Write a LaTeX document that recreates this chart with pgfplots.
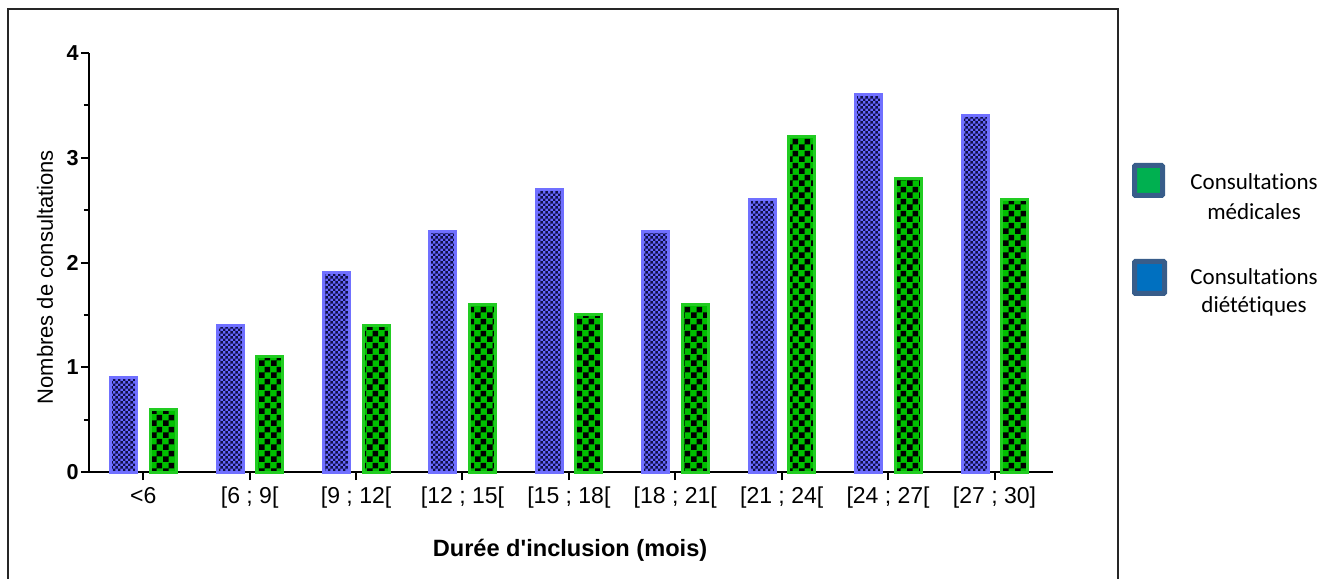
\documentclass[border=0pt]{standalone}
\usepackage{pgfplots}
\pgfplotsset{compat=1.18}
\usepackage{fontspec}
\setmainfont{Liberation Sans}
\newfontfamily\nomapfont{Liberation Sans}
\newfontfamily\legfont[Ligatures=NoCommon]{Carlito}
\usetikzlibrary{patterns}
\definecolor{barblue}{HTML}{6666FF}
\definecolor{bluedark}{HTML}{101048}
\definecolor{blueedge}{HTML}{7070FF}
\definecolor{bargreen}{HTML}{00C000}
\definecolor{greenedge}{HTML}{22CC22}
\definecolor{legblue}{HTML}{0070C0}
\definecolor{leggreen}{HTML}{00B050}
\definecolor{legedge}{HTML}{385D8A}
\pgfdeclarepatternformonly{chkfine}{\pgfpointorigin}{\pgfqpoint{2.7pt}{2.7pt}}{\pgfqpoint{2.7pt}{2.7pt}}{%
  \pgfpathrectangle{\pgfpointorigin}{\pgfqpoint{1.35pt}{1.35pt}}%
  \pgfpathrectangle{\pgfqpoint{1.35pt}{1.35pt}}{\pgfqpoint{1.35pt}{1.35pt}}%
  \pgfusepath{fill}}
\pgfdeclarepatternformonly{chkbig}{\pgfpointorigin}{\pgfqpoint{5.8pt}{5.8pt}}{\pgfqpoint{5.8pt}{5.8pt}}{%
  \pgfpathrectangle{\pgfpointorigin}{\pgfqpoint{2.9pt}{2.9pt}}%
  \pgfpathrectangle{\pgfqpoint{2.9pt}{2.9pt}}{\pgfqpoint{2.9pt}{2.9pt}}%
  \pgfusepath{fill}}
\begin{document}
\begin{tikzpicture}
\begin{axis}[
  at={(44.5pt,53pt)}, anchor=south west,
  scale only axis, width=482pt, height=209.5pt,
  xmin=-0.51, xmax=8.55, ymin=0, ymax=4,
  axis x line*=bottom, axis y line*=left,
  axis line style={-, line width=1pt, black},
  tick align=outside,
  major tick length=4pt, minor tick length=2.5pt,
  tick style={line width=1pt, black},
  xtick={0,1,2,3,4,5,6,7,8},
  xticklabels={<6,{[6 ; 9[},{[9 ; 12[},{[12 ; 15[},{[15 ; 18[},{[18 ; 21[},{[21 ; 24[},{[24 ; 27[},{[27 ; 30]}},
  ytick={0,1,2,3,4},
  minor ytick={0.5,1.5,2.5,3.5},
  /pgf/number format/assume math mode=true,
  yticklabel style={font=\bfseries\fontsize{10.8}{12}\selectfont, inner sep=1pt},
  xticklabel style={font=\fontsize{11.5}{13}\selectfont},
  ylabel={Nombres de consultations},
  ylabel style={at={(rel axis cs:-0.0456,0.465)}, anchor=center, font=\fontsize{11}{13}\selectfont},
  xlabel={Durée d{\nomapfont'}inclusion (mois)},
  xlabel style={at={(rel axis cs:0.499,-0.186)}, anchor=center, font=\bfseries\fontsize{11.8}{14}\selectfont},
  clip=false,
]
\addplot[ybar, bar width=13pt, bar shift=-9.75pt, draw=blueedge, line width=1.5pt,
  preaction={fill=barblue}, pattern=chkfine, pattern color=bluedark]
  coordinates {(0,0.9) (1,1.4) (2,1.9) (3,2.3) (4,2.7) (5,2.3) (6,2.6) (7,3.6) (8,3.4)};
\addplot[ybar, bar width=13pt, bar shift=10pt, draw=greenedge, line width=1.5pt,
  preaction={fill=bargreen}, pattern=chkbig, pattern color=black]
  coordinates {(0,0.6) (1,1.1) (2,1.4) (3,1.6) (4,1.5) (5,1.6) (6,3.2) (7,2.8) (8,2.6)};
\end{axis}
% outer frame
\draw[line width=1pt, black!85] (4pt,-2pt) -- (4pt,284.5pt) -- (559pt,284.5pt) -- (559pt,-2pt);
% legend
\draw[line width=2.5pt, legedge, fill=leggreen, rounded corners=0.5pt] (567.25pt,191.25pt) rectangle (581.25pt,206.25pt);
\draw[line width=2.5pt, legedge, fill=legblue, rounded corners=0.5pt] (567.25pt,142.25pt) rectangle (582.25pt,158.25pt);
\node[anchor=base, inner sep=0pt, font=\legfont\fontsize{11.5}{13}\selectfont] at (627pt,194pt) {Consultations};
\node[anchor=base, inner sep=0pt, font=\legfont\fontsize{11.5}{13}\selectfont] at (627pt,179pt) {médicales};
\node[anchor=base, inner sep=0pt, font=\legfont\fontsize{11.5}{13}\selectfont] at (627pt,146.5pt) {Consultations};
\node[anchor=base, inner sep=0pt, font=\legfont\fontsize{11.5}{13}\selectfont] at (627pt,132.5pt) {diététiques};
\pgfresetboundingbox
\useasboundingbox (0,0) rectangle (668pt,289pt);
\end{tikzpicture}
\end{document}
